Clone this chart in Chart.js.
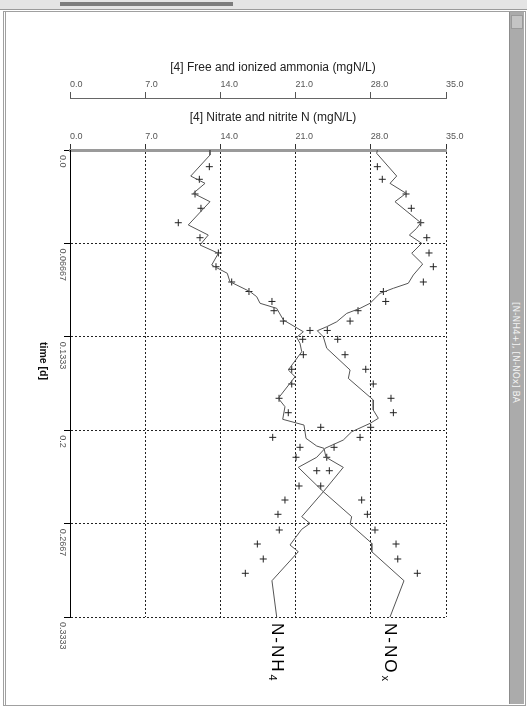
<!DOCTYPE html>
<html>
<head>
<meta charset="utf-8">
<script src="https://cdn.jsdelivr.net/npm/chart.js@4.4.1/dist/chart.umd.min.js"></script>
<style>
  html, body { margin: 0; padding: 0; background: #fff; }
  #page { position: relative; width: 527px; height: 708px; overflow: hidden; background: #fff; }
  #topstrip { position: absolute; left: 0; top: 0; width: 527px; height: 9px; background: #e4e4e4; border-bottom: 1px solid #9a9a9a; }
  #scroll { position: absolute; left: 60px; top: 2px; width: 173px; height: 4px; background: #7c7c7c; }
  #frame { position: absolute; left: 3px; top: 11px; width: 519px; height: 693px; border: 1px solid #a0a0a0; border-left: 3px double #a0a0a0; }
  #sidebar { position: absolute; left: 509px; top: 12px; width: 14px; height: 692px; background: #ababab; border-left: 1px solid #8c8c8c; }
  #sideicon { position: absolute; left: 1px; top: 3px; width: 10px; height: 12px; background: #c4c4c4; border: 1px solid #9a9a9a; }
  #sidetext { position: absolute; left: 1px; top: 290px; writing-mode: vertical-rl; color: #f4f4f4;
              font: 9px "DejaVu Sans", sans-serif; white-space: nowrap; }
  canvas { position: absolute; left: 0; top: 0; }
</style>
</head>
<body>
<div id="page">
  <div id="topstrip"><div id="scroll"></div></div>
  <div id="frame"></div>
  <div id="sidebar"><div id="sideicon"></div><div id="sidetext">[N-NH4+], [N-NOx] BA</div></div>
  <canvas id="chart" width="527" height="708"></canvas>
</div>
<script>
// time axis (days) and its tick labels
const timeTicks = [0, 0.06667, 0.1333, 0.2, 0.2667, 0.3333];
const timeTickLabels = ['0.0', '0.06667', '0.1333', '0.2', '0.2667', '0.3333'];

// measured points (mgN/L)
const measTime = [0.0119, 0.0209, 0.0314, 0.0416, 0.0519, 0.0626, 0.0735, 0.0833, 0.0942, 0.1010,
                  0.1081, 0.1147, 0.1221, 0.1288, 0.1351, 0.1461, 0.1565, 0.1670, 0.1772, 0.1875,
                  0.1979, 0.2051, 0.2122, 0.2193, 0.2289, 0.2398, 0.2498, 0.2600, 0.2712, 0.2812,
                  0.2919, 0.3021];
const nh4Meas = [12.97, 12.04, 11.64, 12.19, 10.08, 12.10, 13.81, 13.59, 15.05, 16.66,
                 18.80, 18.99, 19.86, 22.34, 21.66, 21.72, 20.64, 20.64, 19.46, 20.32,
                 23.34, 18.87, 21.41, 21.04, 24.14, 23.34, 20.01, 19.36, 19.48, 17.44,
                 17.99, 16.32];
const noxMeas = [28.61, 29.07, 31.28, 31.77, 32.65, 33.21, 33.42, 33.82, 32.89, 29.17,
                 29.39, 26.81, 26.07, 23.95, 24.92, 25.60, 27.53, 28.23, 29.88, 30.10,
                 27.99, 27.00, 24.58, 23.90, 22.97, 21.32, 27.15, 27.68, 28.39, 30.35,
                 30.51, 32.33];

// simulated N-NH4
const nh4SimTime = [0, 0.0036, 0.0186, 0.0238, 0.0309, 0.0369, 0.0535, 0.0607, 0.0678, 0.0737,
                    0.0821, 0.0880, 0.0940, 0.1011, 0.1047, 0.1094, 0.1130, 0.1213, 0.1297, 0.1337,
                    0.1380, 0.1440, 0.1570, 0.1618, 0.1772, 0.1832, 0.1922, 0.1963, 0.2058, 0.2113,
                    0.2129, 0.2193, 0.2265, 0.2439, 0.2617, 0.2665, 0.2707, 0.2819, 0.2867, 0.3074,
                    0.3333];
const nh4SimConc = [13.03, 13.03, 11.24, 12.57, 11.48, 13.03, 11.01, 12.87, 12.10, 13.81,
                    13.19, 14.64, 14.89, 16.76, 17.38, 17.69, 19.24, 19.86, 21.72, 21.10,
                    21.41, 21.57, 20.32, 20.95, 19.39, 20.01, 19.80, 21.78, 21.97, 22.97,
                    23.64, 23.83, 25.44, 23.58, 21.57, 22.34, 21.57, 20.48, 21.25, 18.80,
                    19.24];

// simulated N-NOx
const noxSimTime = [0, 0.0024, 0.0186, 0.0238, 0.0309, 0.0369, 0.0519, 0.0559, 0.0607, 0.0666,
                    0.0737, 0.0814, 0.0892, 0.0951, 0.0987, 0.1023, 0.1094, 0.1130, 0.1166, 0.1226,
                    0.1261, 0.1290, 0.1333, 0.1415, 0.1570, 0.1630, 0.1784, 0.1856, 0.1915, 0.1951,
                    0.2011, 0.2070, 0.2129, 0.2193, 0.2265, 0.2439, 0.2617, 0.2670, 0.2807, 0.2867,
                    0.3074, 0.3333];
const noxSimConc = [28.61, 28.55, 30.41, 29.79, 31.28, 30.25, 32.65, 32.27, 31.59, 32.74,
                    31.81, 32.83, 31.96, 31.49, 30.10, 28.86, 27.93, 27.00, 25.76, 24.83,
                    23.90, 23.02, 23.58, 23.90, 26.07, 25.91, 28.23, 28.23, 28.70, 27.93,
                    26.22, 25.44, 23.74, 22.97, 21.25, 23.58, 26.22, 26.07, 28.09, 28.09,
                    31.09, 29.79];

const FONT = '"Liberation Sans", Arial, sans-serif';

function pts(times, vals) {
    return times.map((t, i) => ({ x: vals[i], y: t }));
}

// rotated texts (time ticks, axis title, series names) and the two top titles
const extraText = {
    id: 'extraText',
    afterDraw(chart) {
        const { ctx, scales: { x, x2, y } } = chart;
        ctx.save();

        ctx.fillStyle = '#555';
        ctx.font = '9px ' + FONT;
        ctx.textBaseline = 'middle';
        ctx.textAlign = 'left';
        timeTicks.forEach((v, i) => {
            ctx.save();
            ctx.translate(y.right - 8, y.getPixelForValue(v) + 5);
            ctx.rotate(Math.PI / 2);
            ctx.fillText(timeTickLabels[i], 0, 0);
            ctx.restore();
        });

        ctx.fillStyle = '#111';
        ctx.font = 'bold 10.5px ' + FONT;
        ctx.textAlign = 'center';
        ctx.save();
        ctx.translate(y.left + 43, 361);
        ctx.rotate(Math.PI / 2);
        ctx.fillText('time [d]', 0, 0);
        ctx.restore();

        // axis titles
        ctx.fillStyle = '#222';
        ctx.font = '12px ' + FONT;
        const cx = (x.left + x.right) / 2 + 15;
        ctx.fillText('[4] Nitrate and nitrite N (mgN/L)', cx, 118);
        ctx.fillText('[4] Free and ionized ammonia (mgN/L)', cx, 68);

        // series names at the end of the lines
        const names = [['N-NH', '4', nh4SimConc], ['N-NO', 'x', noxSimConc]];
        names.forEach(([main, sub, vals]) => {
            ctx.save();
            ctx.translate(x.getPixelForValue(vals[vals.length - 1]), y.bottom + 6);
            ctx.rotate(Math.PI / 2);
            ctx.fillStyle = '#000';
            ctx.textAlign = 'left';
            ctx.font = '17px ' + FONT;
            ctx.letterSpacing = '2px';
            ctx.fillText(main, 0, 0);
            const w = ctx.measureText(main).width;
            ctx.font = '11px ' + FONT;
            ctx.letterSpacing = '0px';
            ctx.fillText(sub, w + 1, 5);
            ctx.restore();
        });

        ctx.restore();
    }
};

const tickFont = { size: 9, family: FONT };

new Chart(document.getElementById('chart'), {
    type: 'scatter',
    data: {
        datasets: [
            {
                label: 'N-NH4 simulated',
                data: pts(nh4SimTime, nh4SimConc),
                showLine: true,
                pointRadius: 0,
                borderColor: '#555',
                borderWidth: 1
            },
            {
                label: 'N-NOx simulated',
                data: pts(noxSimTime, noxSimConc),
                showLine: true,
                pointRadius: 0,
                borderColor: '#555',
                borderWidth: 1
            },
            {
                label: 'N-NH4 measured',
                data: pts(measTime, nh4Meas),
                pointStyle: 'cross',
                pointRadius: 3.5,
                borderColor: '#222',
                borderWidth: 1
            },
            {
                label: 'N-NOx measured',
                data: pts(measTime, noxMeas),
                pointStyle: 'cross',
                pointRadius: 3.5,
                borderColor: '#222',
                borderWidth: 1
            }
        ]
    },
    options: {
        responsive: false,
        animation: false,
        layout: { padding: { left: 0, right: 81, top: 56.5, bottom: 91 } },
        plugins: {
            legend: { display: false },
            tooltip: { enabled: false }
        },
        scales: {
            x: {
                type: 'linear',
                position: 'top',
                min: 0,
                max: 35,
                weight: 0,
                ticks: {
                    stepSize: 7,
                    align: 'start',
                    padding: 2,
                    color: '#555',
                    font: tickFont,
                    callback: v => v.toFixed(1)
                },
                grid: { color: '#222', lineWidth: 1, tickLength: 6, tickColor: '#333', tickBorderDash: [] },
                border: { color: '#9a9a9a', width: 3, dash: [2, 2] },
                afterFit: s => { s.height = 52; }
            },
            x2: {
                type: 'linear',
                position: 'top',
                min: 0,
                max: 35,
                weight: 1,
                ticks: {
                    stepSize: 7,
                    align: 'start',
                    padding: 2,
                    color: '#555',
                    font: tickFont,
                    callback: v => v.toFixed(1)
                },
                grid: { drawOnChartArea: false, tickLength: 6, tickColor: '#555' },
                border: { color: '#666', width: 1 },
                afterFit: s => { s.height = 41.5; }
            },
            y: {
                type: 'linear',
                min: 0,
                max: 0.3333,
                reverse: true,
                afterBuildTicks: s => { s.ticks = timeTicks.map(v => ({ value: v })); },
                ticks: { display: false },
                grid: { color: '#222', lineWidth: 1, tickLength: 6, tickColor: '#000', tickBorderDash: [] },
                border: { color: '#000', width: 1, dash: [2, 2] },
                afterFit: s => { s.width = 70; }
            }
        }
    },
    plugins: [extraText]
});
</script>
</body>
</html>
